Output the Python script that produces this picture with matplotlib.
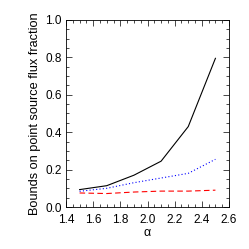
import matplotlib
matplotlib.use('Agg')
import matplotlib.pyplot as plt
from matplotlib.ticker import MultipleLocator

alpha = [1.5, 1.7, 1.9, 2.1, 2.3, 2.5]
upper = [0.093, 0.114, 0.17, 0.245, 0.43, 0.795]
mid = [0.084, 0.10, 0.13, 0.155, 0.18, 0.255]
lower = [0.075, 0.072, 0.08, 0.085, 0.085, 0.09]

plt.rcParams['font.family'] = ['Liberation Sans', 'DejaVu Sans']

fig = plt.figure(figsize=(2.49, 2.49), dpi=100)
ax = fig.add_axes([66/249, 42/249, 163/249, 187/249])

ax.plot(alpha, upper, color='black', lw=0.8)
ax.plot(alpha, mid, color='blue', lw=0.8, ls=(0, (1, 2)))
ax.plot(alpha, lower, color='red', lw=0.8, ls=(0, (5, 3)))

ax.set_xlim(1.4, 2.6)
ax.set_ylim(0.0, 1.0)
ax.xaxis.set_major_locator(MultipleLocator(0.2))
ax.xaxis.set_minor_locator(MultipleLocator(0.05))
ax.yaxis.set_major_locator(MultipleLocator(0.2))
ax.yaxis.set_minor_locator(MultipleLocator(0.05))
ax.tick_params(which='both', direction='in', top=True, right=True, labelsize=8.5, width=0.5)
ax.tick_params(axis='x', pad=5)
ax.tick_params(axis='y', pad=3)
ax.tick_params(which='major', length=4)
ax.tick_params(which='minor', length=2)
for s in ax.spines.values():
    s.set_linewidth(0.6)

ax.set_xlabel('α', fontsize=9, labelpad=1)
ax.set_ylabel('Bounds on point source flux fraction', fontsize=9.2, labelpad=3)

fig.savefig('out.png', dpi=100)
